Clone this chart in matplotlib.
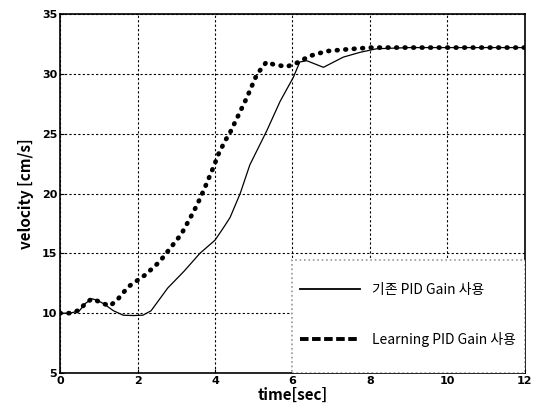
import matplotlib
matplotlib.use("Agg")
import matplotlib.pyplot as plt
from matplotlib.lines import Line2D
from matplotlib.patches import Rectangle

plt.rcParams['font.family'] = ['Noto Sans CJK KR', 'DejaVu Sans']

# Data
t_learn = [0, 0.26, 0.5, 0.65, 0.82, 0.98, 1.12, 1.29, 1.5, 1.76, 1.98, 2.2, 2.57, 2.74, 3.13, 3.35, 3.53, 3.7,
           3.96, 4.09, 4.26, 4.39, 4.82, 5.08, 5.33, 5.5, 5.85, 6.1, 6.45, 6.88, 7.4, 8.0, 9.0, 10.0, 11.0, 12.0]
v_learn = [10, 10, 10.25, 10.8, 11.2, 11.0, 10.8, 10.6, 11.2, 12.2, 12.7, 13.2, 14.3, 15.0, 16.6, 17.9, 19.0, 20.2,
           22.2, 23.3, 24.4, 25.1, 28.0, 29.95, 31.0, 30.8, 30.6, 30.9, 31.5, 31.9, 32.05, 32.2, 32.2, 32.2, 32.2, 32.2]

t_base = [0, 0.26, 0.5, 0.65, 0.82, 0.95, 1.12, 1.38, 1.63, 1.9, 2.14, 2.35, 2.78, 3.2, 3.61, 4.0, 4.21, 4.39,
          4.65, 4.9, 5.33, 5.68, 6.02, 6.19, 6.37, 6.8, 7.31, 7.74, 8.17, 9.0, 10.0, 11.0, 12.0]
v_base = [10, 10, 10.2, 10.8, 11.2, 11.1, 10.8, 10.2, 9.83, 9.8, 9.83, 10.2, 12.1, 13.5, 15.0, 16.1, 17.1, 18.0,
          20.0, 22.4, 25.2, 27.7, 29.7, 31.0, 31.1, 30.55, 31.4, 31.8, 32.1, 32.2, 32.2, 32.2, 32.2]

xticks = [0, 2, 4, 6, 8, 10, 12]
yticks = [5, 10, 15, 20, 25, 30, 35]
labels = ['기존 PID Gain 사용', 'Learning PID Gain 사용']

fig = plt.figure(figsize=(5.34, 4.13), dpi=100)
ax = fig.add_axes([0.1124, 0.0969, 0.8706, 0.869])

ax.plot(t_base, v_base, color='black', lw=0.9)
ax.plot(t_learn, v_learn, color='black', lw=3.4, linestyle=(0, (0.15, 1.65)),
        dash_capstyle='round')

ax.set_xlim(0, 12)
ax.set_ylim(5, 35)
ax.set_xticks(xticks)
ax.set_yticks(yticks)
ax.set_xticklabels([str(v) for v in xticks], fontsize=8, fontweight='bold', family='DejaVu Sans')
ax.set_yticklabels([str(v) for v in yticks], fontsize=8, fontweight='bold', family='DejaVu Sans')
ax.tick_params(direction='in', length=3, width=0.8, pad=2)
ax.grid(True, color='black', linestyle=(0, (2, 2)), linewidth=0.8)
for s in ax.spines.values():
    s.set_linewidth(1.2)

ax.set_xlabel('time[sec]', fontsize=11, fontweight='bold', labelpad=1)
ax.set_ylabel('velocity [cm/s]', fontsize=11, fontweight='bold', labelpad=6)

# legend frame (light gray dotted box)
frame = Rectangle((0.5, 0.0), 0.5, 0.315, transform=ax.transAxes, facecolor='white',
                  edgecolor='#999999', linestyle=':', linewidth=1.2, zorder=4)
ax.add_patch(frame)

handles = [Line2D([], [], color='black', lw=1.3),
           Line2D([], [], color='black', lw=2.8, linestyle=(0, (2.2, 0.9)))]
leg = ax.legend(handles, labels, loc='center left', bbox_to_anchor=(0.516, 0.162), fontsize=10,
                frameon=False, borderpad=0, labelspacing=2.5,
                handlelength=4.3, handletextpad=0.9, borderaxespad=0)
leg.set_zorder(5)

fig.savefig('out.png', dpi=100)
